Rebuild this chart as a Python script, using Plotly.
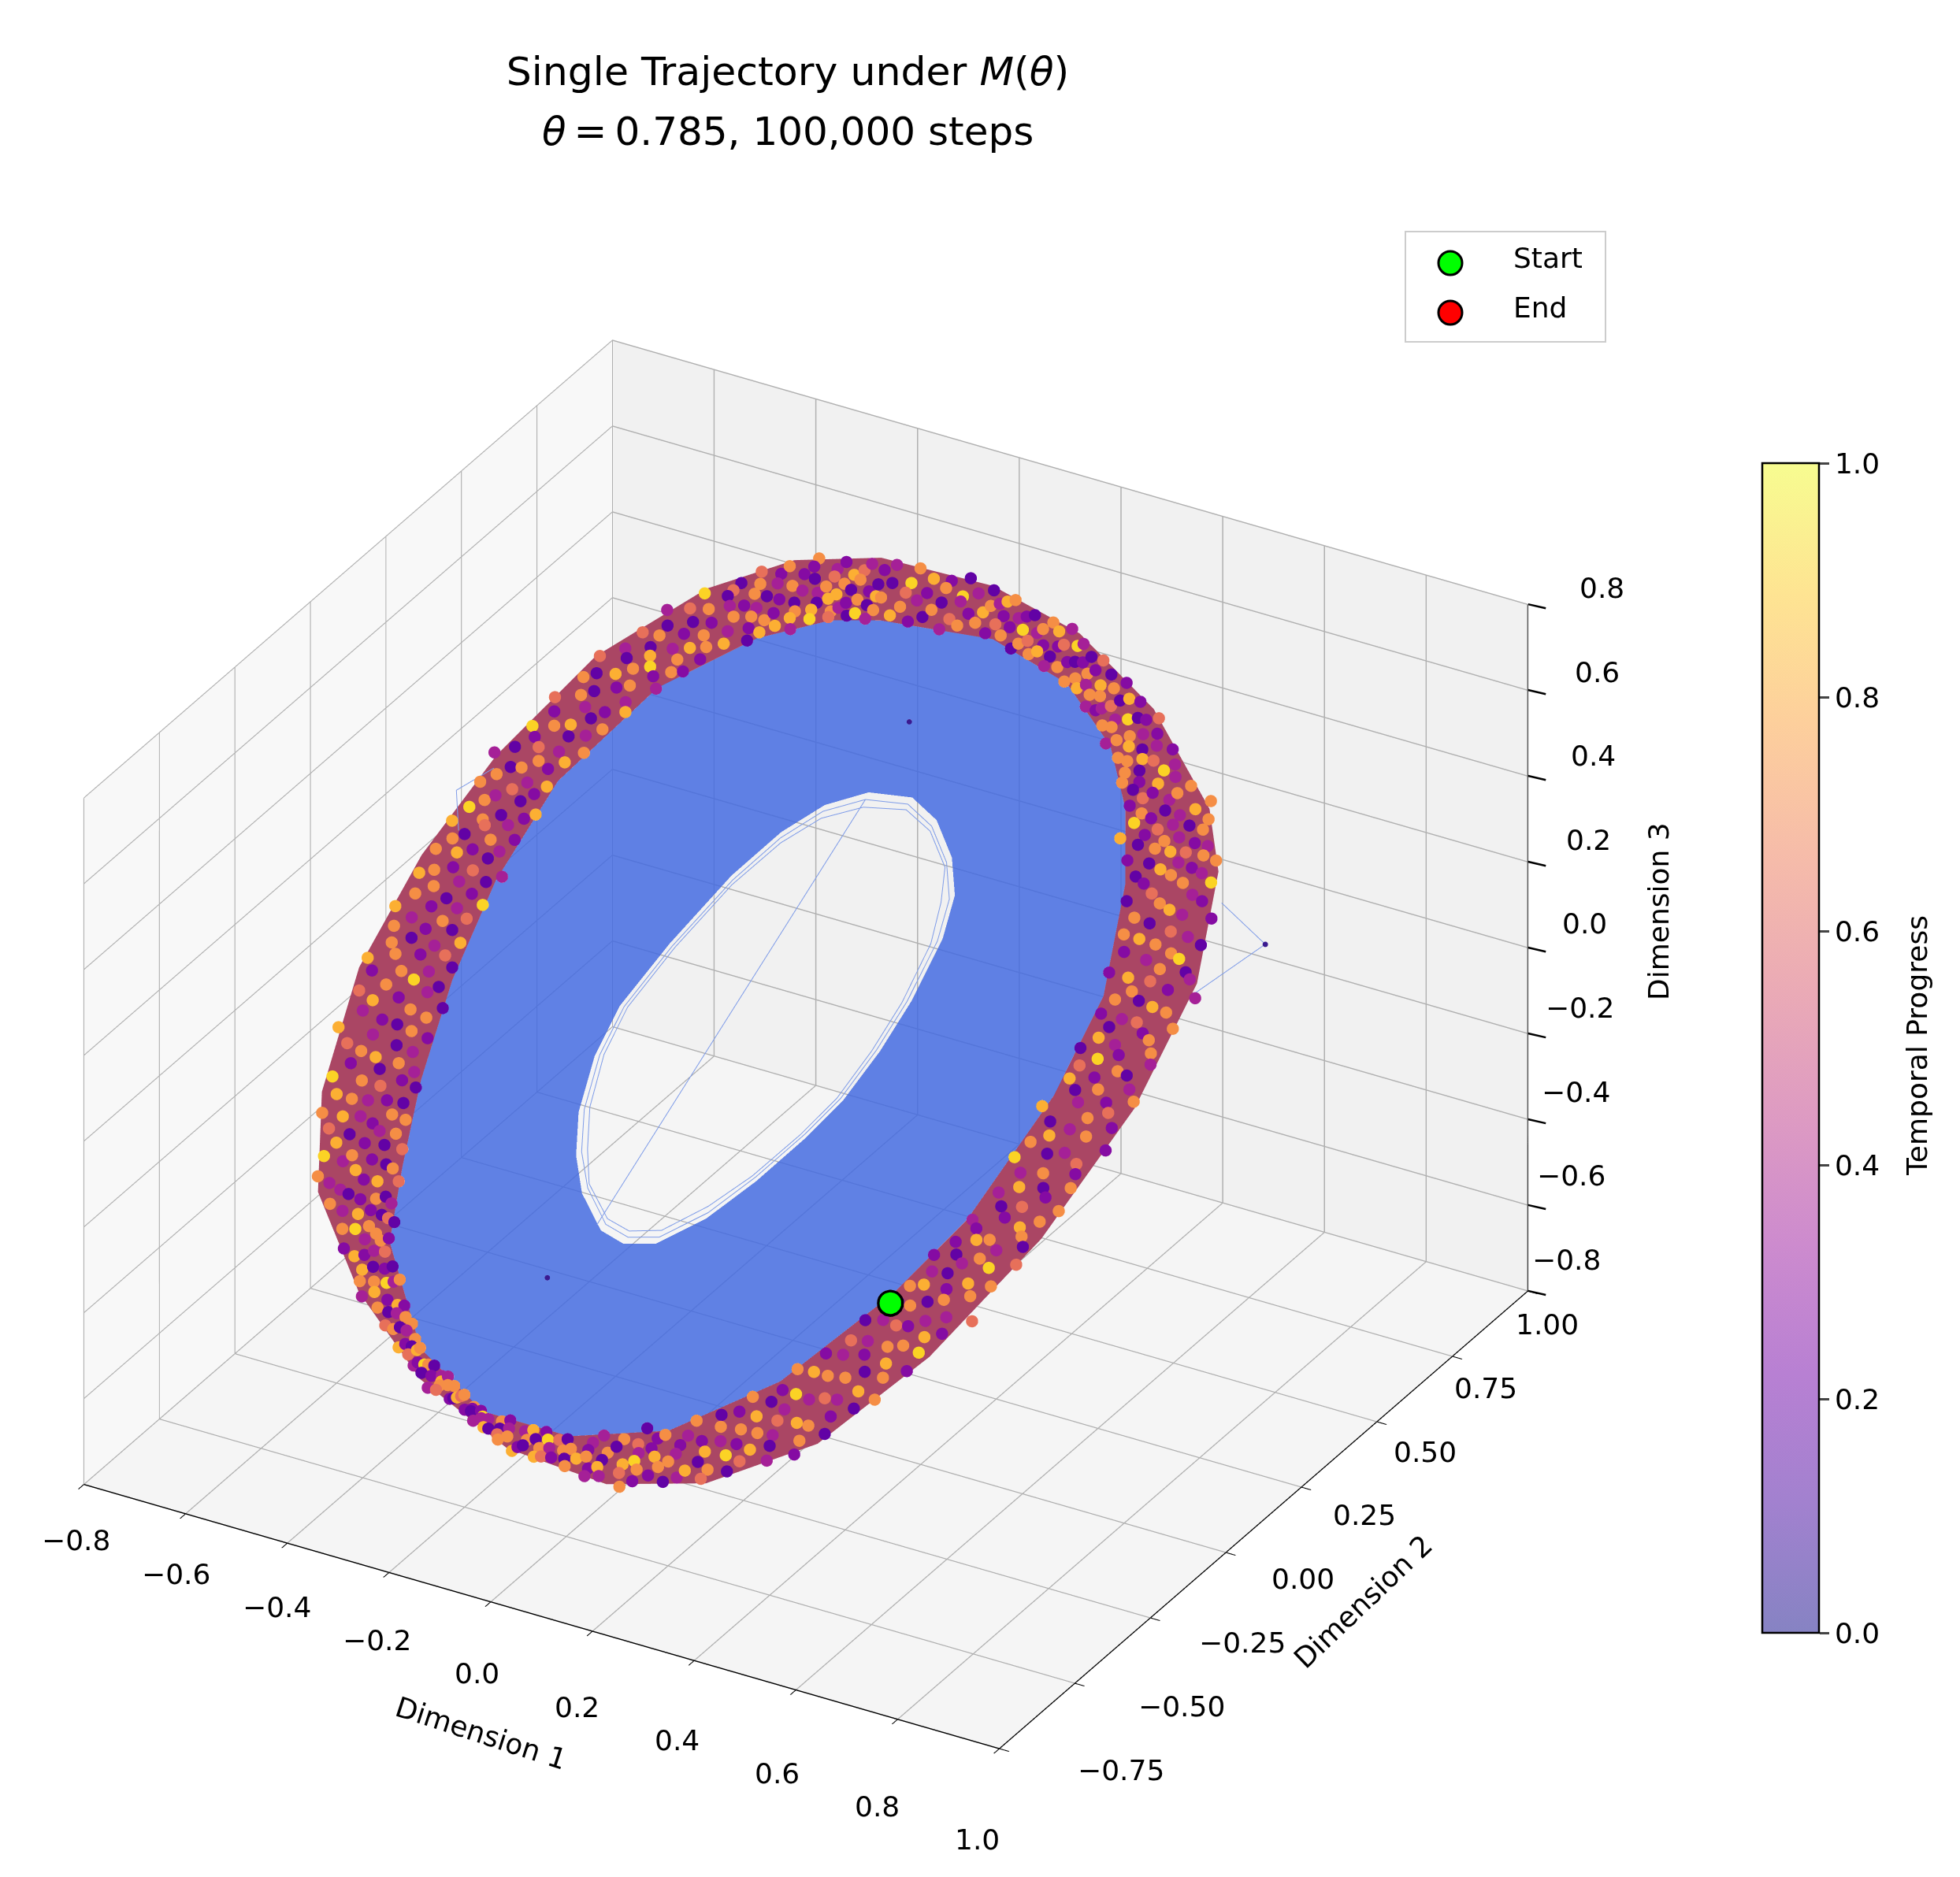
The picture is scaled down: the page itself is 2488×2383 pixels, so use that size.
import numpy as np
import plotly.graph_objects as go

# in-plane coordinates of the ring, 24 stations clockwise from the top
rim_a = [-.614,-.367,-.130,.134,.409,.535,.695,.805,.871,.882,.838,.711,.537,.299,.024,-.240,-.488,-.658,-.812,-.900,-.944,-.944,-.867,-.763]
rim_b = [.719,.834,.892,.899,.852,.788,.623,.388,.105,-.188,-.443,-.640,-.774,-.863,-.895,-.871,-.804,-.677,-.476,-.256,-.036,.218,.449,.600]
band_a = [-.504,-.273,-.064,.123,.260,.392,.552,.640,.706,.706,.662,.552,.387,.189,-.031,-.273,-.383,-.504,-.625,-.724,-.790,-.779,-.691,-.592]
band_b = [.642,.769,.814,.796,.740,.649,.483,.296,.029,-.161,-.417,-.626,-.765,-.851,-.857,-.769,-.661,-.530,-.367,-.188,.016,.262,.455,.576]
hole_a = [-.222,-.136,-.053,.040,.112,.167,.222,.255,.277,.277,.266,.244,.200,.143,.079,-.020,-.097,-.169,-.240,-.284,-.306,-.317,-.306,-.277]
hole_b = [.417,.469,.474,.449,.407,.338,.221,.118,.008,-.087,-.207,-.318,-.415,-.459,-.473,-.453,-.415,-.359,-.269,-.175,-.033,.133,.252,.343]

# thin trajectory passes that run inside the hole and past the rim
loop_a = [-.215,-.132,-.051,.039,.109,.162,.215,.247,.269,.269,.258,.237,.194,.139,.077,-.019,-.094,-.164,-.233,-.275,-.297,-.307,-.297,-.269,-.215,.062]
loop_b = [.404,.455,.460,.436,.395,.328,.214,.114,.008,-.084,-.201,-.308,-.403,-.445,-.459,-.439,-.403,-.348,-.261,-.170,-.032,.129,.244,.333,.404,-.471]
pass_a = [-.205,-.125,-.045,.045,.100,.155,.208,.240,.262,.262,.250,.226,.186,.130,.070,-.024,-.088,-.158,-.226,-.268,-.290,-.300,-.288,-.260,-.205]
pass_b = [.392,.446,.452,.428,.380,.316,.206,.107,.003,-.090,-.205,-.300,-.392,-.436,-.450,-.432,-.392,-.338,-.255,-.166,-.030,.122,.238,.322,.392]
spike_a = [.596,.746,.706]
spike_b = [.754,.762,.599]
spike2_a = [-.926,-.953,-.878]
spike2_b = [-.054,-.131,-.177]

# stragglers seen away from the rim
stray_a = [-.275,.068,.746]
stray_b = [.557,-.602,.762]

start_ab = [.717, -.175]
end_ab = [.620, .550]

# rim speckle: position along the stations in hundredths, share of the rim width in percent, progress digit
speck_pos = [
0,3,8,10,14,17,22,24,27,32,35,37,41,45,47,52,54,58,61,63,68,71,73,78,
80,84,87,91,93,98,101,103,108,110,113,117,121,124,126,131,133,137,140,144,147,149,154,157,
160,163,168,170,173,178,180,184,186,191,194,196,201,203,207,210,213,217,220,223,227,230,233,237,
240,243,247,249,254,257,259,264,266,270,273,276,280,283,286,290,293,296,299,303,306,309,313,316,
320,322,327,330,332,337,339,343,346,349,353,356,359,363,365,369,372,376,379,382,385,389,392,395,
400,402,406,409,413,416,419,423,425,429,432,436,439,442,446,449,452,456,458,462,465,469,472,476,
479,482,486,489,492,496,499,502,506,509,512,516,518,522,525,529,532,535,539,542,546,549,552,556,
559,562,565,569,572,575,579,582,586,588,592,595,599,602,605,609,612,616,618,622,625,629,632,636,
639,642,645,649,652,656,658,662,665,669,672,675,679,682,686,689,692,695,699,702,706,709,712,716,
719,722,725,729,732,736,739,742,745,749,752,756,759,762,766,769,772,776,779,782,785,789,792,796,
799,802,806,809,812,816,818,822,825,829,832,835,839,842,846,849,852,855,859,862,866,869,872,876,
879,882,885,889,892,896,899,902,905,909,912,915,919,922,926,929,932,936,939,942,945,949,952,956,
959,962,965,969,972,976,979,982,985,989,992,995,999,1002,1006,1009,1012,1015,1019,1022,1026,1029,1032,1036,
1039,1042,1045,1049,1052,1056,1059,1062,1065,1069,1072,1076,1079,1082,1085,1089,1092,1095,1099,1102,1106,1109,1112,1116,
1119,1122,1125,1129,1132,1136,1139,1142,1145,1149,1152,1155,1159,1162,1166,1169,1172,1175,1179,1182,1186,1189,1192,1196,
1199,1202,1206,1209,1212,1215,1219,1222,1225,1229,1232,1235,1239,1242,1246,1249,1252,1256,1259,1262,1265,1269,1272,1276,
1279,1282,1285,1289,1292,1296,1299,1302,1305,1309,1312,1316,1319,1322,1325,1329,1332,1335,1339,1342,1346,1349,1352,1356,
1359,1362,1365,1369,1372,1376,1379,1382,1386,1389,1392,1395,1399,1402,1406,1409,1412,1415,1419,1422,1426,1429,1432,1436,
1439,1442,1446,1449,1452,1455,1459,1462,1466,1469,1472,1475,1479,1482,1486,1489,1492,1495,1499,1502,1506,1509,1512,1516,
1519,1522,1525,1529,1532,1536,1539,1542,1546,1549,1552,1556,1559,1562,1565,1569,1572,1575,1579,1582,1586,1589,1592,1596,
1599,1602,1606,1609,1612,1616,1619,1622,1625,1629,1632,1635,1639,1642,1646,1649,1652,1656,1659,1662,1665,1669,1672,1676,
1679,1682,1685,1689,1692,1696,1699,1702,1706,1709,1712,1715,1719,1722,1726,1729,1732,1736,1739,1742,1746,1749,1752,1755,
1759,1762,1766,1769,1772,1775,1779,1782,1786,1789,1792,1796,1799,1802,1805,1809,1812,1816,1819,1822,1825,1829,1832,1836,
1839,1842,1846,1849,1852,1855,1859,1862,1866,1869,1872,1875,1879,1882,1886,1889,1892,1896,1899,1902,1905,1909,1912,1916,
1919,1922,1925,1929,1932,1936,1939,1942,1946,1949,1952,1955,1959,1962,1966,1969,1972,1975,1979,1982,1986,1989,1992,1996,
1999,2002,2006,2009,2012,2016,2019,2022,2025,2029,2032,2036,2039,2042,2045,2049,2052,2056,2059,2062,2065,2069,2072,2076,
2079,2082,2086,2089,2092,2095,2099,2102,2106,2109,2112,2116,2119,2122,2125,2129,2132,2136,2139,2142,2145,2149,2152,2156,
2159,2162,2166,2169,2172,2175,2179,2182,2186,2189,2192,2196,2199,2202,2205,2209,2212,2216,2219,2222,2226,2229,2232,2235,
2239,2242,2246,2249,2252,2255,2259,2262,2266,2269,2272,2276,2279,2282,2285,2289,2292,2296,2299,2302,2305,2309,2312,2316,
2319,2322,2326,2329,2332,2335,2339,2342,2346,2349,2352,2356,2359,2362,2365,2369,2372,2376,2379,2382,2386,2389,2392,2396]
speck_frac = [
37,82,11,64,95,28,53,6,71,44,99,18,60,33,87,2,49,76,23,91,14,58,68,39,
104,25,80,47,9,62,93,31,74,16,55,86,41,3,97,67,20,50,78,35,12,89,59,26,
72,43,7,94,30,84,56,19,65,101,38,1,77,48,90,24,61,13,83,52,34,70,96,27,
5,57,88,42,17,73,29,98,46,66,10,81,36,22,92,54,-4,69,15,79,40,100,63,32,
85,8,51,75,21,45,95,60,12,34,87,68,4,28,79,52,16,93,40,71,25,57,107,6,
83,47,19,64,30,97,10,55,74,37,89,22,-6,61,44,14,78,33,92,50,67,2,86,26,
58,99,38,72,11,49,82,20,63,94,31,5,76,42,88,54,17,69,35,102,9,60,27,80,
46,13,96,65,39,75,1,56,23,85,48,91,30,70,15,43,106,62,7,81,34,53,24,98,
66,18,77,41,3,87,51,29,93,12,59,72,36,8,83,47,21,95,64,32,74,-5,55,90,
16,44,68,26,101,10,57,38,79,4,86,49,23,92,61,33,71,14,97,52,28,84,41,66,
6,76,19,88,45,31,63,99,11,54,73,25,40,94,2,67,35,82,17,50,109,58,22,78,
43,9,90,60,29,75,13,48,86,37,65,20,96,53,5,70,30,83,42,15,61,100,24,77,
51,8,92,34,68,18,56,81,1,44,95,27,72,12,62,38,87,21,49,103,4,66,32,79,
55,16,98,41,74,10,59,26,85,46,69,3,93,35,52,19,80,63,28,91,7,43,75,13,
-7,57,88,31,47,67,22,96,39,11,83,54,71,25,2,60,94,36,77,15,50,105,29,64,
42,84,9,73,33,56,18,99,45,6,68,27,90,51,12,78,37,61,23,86,48,3,95,70,
30,14,82,58,40,102,20,65,7,92,35,75,52,26,88,44,10,62,97,32,79,16,55,1,
71,38,85,24,47,67,12,93,58,29,108,41,76,5,63,34,89,19,52,83,8,72,43,98,
26,60,15,81,49,36,94,69,3,56,22,86,40,11,74,31,64,100,17,53,90,6,78,45,
28,66,-3,84,37,59,13,96,48,25,70,9,88,42,61,19,33,80,54,2,92,67,30,75,
46,12,87,21,57,101,39,5,73,63,27,95,50,16,82,35,68,8,44,91,24,58,77,14,
99,32,52,69,4,85,41,20,62,10,94,47,29,79,55,18,72,37,89,7,65,26,103,43,
60,15,83,34,1,76,50,93,22,67,12,40,86,56,28,97,6,71,45,19,81,35,63,9,
88,53,24,74,39,98,14,59,30,84,47,3,68,21,92,42,77,11,57,33,-4,90,64,25,
49,80,17,70,36,95,8,54,61,27,87,43,13,75,2,66,31,96,51,20,83,38,10,72,
58,106,26,46,89,15,62,34,78,5,93,41,69,23,52,85,12,37,100,56,29,74,7,64,
18,91,44,81,32,60,1,97,50,22,71,39,86,14,55,6,67,28,94,47,76,11,35,83,
59,24,104,42,68,16,88,53,30,73,4,96,45,20,63,9,79,37,57,85,26,48,13,92,
70,33,2,61,82,19,51,99,27,75,40,10,87,65,23,54,94,31,6,77,46,15,69,36,
89,56,21,102,43,8,72,29,84,60,12,50,95,34,74,3,66,25,81,47,17,91,39,58]
speck_prog = [
7,2,8,1,3,7,6,2,9,3,7,1,2,7,8,3,1,7,6,2,7,3,9,2,
1,7,3,8,2,7,1,6,3,7,2,8,2,1,7,3,7,9,2,6,7,1,3,8,
7,2,3,7,1,8,2,7,6,3,2,7,9,1,3,7,2,8,1,7,3,2,6,7,
3,8,1,7,2,7,3,2,6,1,7,8,3,7,2,9,3,1,7,2,7,6,3,8,
2,7,1,3,7,8,2,6,7,1,3,9,7,2,3,8,1,7,2,7,6,3,7,2,
8,1,7,3,2,7,9,3,1,6,7,2,8,3,7,1,2,7,3,8,6,2,7,1,
3,7,8,2,1,7,3,2,7,9,6,1,3,7,2,8,7,3,1,2,7,6,8,3,
7,2,1,7,3,9,2,7,8,1,6,3,7,2,7,1,3,8,2,7,3,6,1,7,
2,8,7,3,1,7,2,9,3,6,7,1,2,8,3,7,1,7,2,3,6,8,7,2,
1,3,7,8,2,7,3,1,6,9,2,7,3,7,1,8,2,3,7,6,1,7,2,8,
3,7,2,1,7,8,3,6,2,7,9,1,3,7,2,8,1,7,3,2,6,7,8,3,
1,7,2,3,7,8,1,2,9,6,7,3,2,7,1,8,3,7,2,6,1,7,3,8,
7,2,1,7,3,8,6,2,7,3,1,9,7,2,8,3,7,1,6,2,7,3,8,1,
7,2,3,7,8,1,2,7,6,3,9,7,1,2,8,3,7,1,2,6,7,3,8,2,
1,7,3,2,8,7,6,1,3,7,2,9,7,1,3,8,2,7,6,3,1,7,2,8,
7,3,1,2,7,8,6,3,7,2,1,9,7,3,8,2,1,7,3,6,7,2,8,1,
3,7,2,7,1,8,3,6,2,7,9,1,3,7,8,2,7,1,3,6,2,7,8,3,
1,7,2,3,8,7,1,6,2,7,3,9,1,7,2,8,3,7,1,6,7,2,3,8,
7,1,2,7,3,8,6,1,7,2,3,7,9,1,8,2,7,3,6,1,7,2,8,3,
7,2,1,8,7,3,6,2,7,1,9,3,7,2,8,1,7,3,2,6,7,1,8,3,
2,7,3,1,8,7,2,6,3,7,1,9,2,7,8,3,1,7,2,6,7,3,8,1,
7,2,3,7,1,8,6,2,7,3,9,1,7,2,8,3,7,1,6,2,3,7,8,1,
2,7,3,7,1,8,2,6,3,7,1,9,2,7,3,8,1,7,2,6,7,3,1,8,
7,2,1,3,7,8,6,2,3,7,1,9,7,2,8,3,7,1,2,6,3,7,8,1,
2,7,3,1,7,8,2,6,7,3,9,1,2,7,8,3,1,7,6,2,7,3,8,1,
7,3,2,7,1,8,6,3,2,7,9,1,7,3,8,2,7,1,6,3,2,7,8,1,
3,7,2,1,7,8,3,6,7,2,1,9,3,7,8,2,1,7,6,3,7,2,8,1,
2,7,3,7,1,8,6,2,3,7,1,9,7,2,3,8,1,7,2,6,7,3,8,1,
7,2,3,1,7,8,2,6,7,3,1,9,2,7,8,3,7,1,6,2,3,7,1,8,
2,7,3,7,8,1,6,2,3,7,9,1,2,7,8,3,7,1,6,2,7,3,8,1]

x_ticks = [-0.8, -0.6, -0.4, -0.2, 0.0, 0.2, 0.4, 0.6, 0.8, 1.0]
y_ticks = [-0.75, -0.5, -0.25, 0.0, 0.25, 0.5, 0.75, 1.0]
z_ticks = [-0.8, -0.6, -0.4, -0.2, 0.0, 0.2, 0.4, 0.6, 0.8]
bar_ticks = [0.0, 0.2, 0.4, 0.6, 0.8, 1.0]

plasma_half = ["#8683c3", "#a281cf", "#b880d3", "#cd8bce", "#de9bc2", "#ebabb5", "#f6bca9", "#fdcf9c", "#fee492", "#f7fc90"]

X_LO, X_HI = -0.8, 1.0
Y_LO, Y_HI = -0.75, 1.0
Z_LO, Z_HI = -0.8, 0.8

# ring plane: centre and the two in-plane directions
center = np.array([0.079, 0.025, 0.107])
u = np.array([0.817, -0.482, -0.118])
v = np.array([0.391, 0.640, 0.657])
toward_eye = np.array([0.433, -0.727, 0.592])
box_scale = 1.26


def to_xyz(a, b, lift=0.0):
    a, b = np.asarray(a), np.asarray(b)
    return center + np.outer(a, u) + np.outer(b, v) + lift * toward_eye


def band_mesh(a0, b0, a1, b1, color, opacity):
    pts = np.vstack([to_xyz(a0, b0), to_xyz(a1, b1)])
    m = len(a0)
    i, j, k = [], [], []
    for s in range(m):
        t = (s + 1) % m
        i += [s, t]
        j += [t, t + m]
        k += [s + m, s + m]
    return go.Mesh3d(
        x=pts[:, 0], y=pts[:, 1], z=pts[:, 2], i=i, j=j, k=k,
        color=color, opacity=opacity, flatshading=True,
        lighting=dict(ambient=1, diffuse=0, specular=0, roughness=1, fresnel=0),
        hoverinfo="skip", showscale=False,
    )


def line_trace(a, b, width=2):
    p = to_xyz(a, b, 0.01)
    return go.Scatter3d(x=p[:, 0], y=p[:, 1], z=p[:, 2], mode="lines", showlegend=False, hoverinfo="skip",
                        line=dict(color="#7f9ce8", width=width))


def marker_trace(p, size, color, name):
    return go.Scatter3d(x=p[:, 0], y=p[:, 1], z=p[:, 2], mode="markers", name=name, showlegend=False,
                        marker=dict(size=size, color=color, line=dict(width=0)))


def fmt(t, spec):
    return format(t, spec).replace("-", "\u2212")


def tick_note(x, y, z, text, dx, dy):
    return dict(x=x, y=y, z=z, text=text, showarrow=False, xshift=dx * 1.587, yshift=-dy * 1.587,
                font=dict(size=36, color="black"))


def paper_text(px, py, text, size=36, angle=0, anchor="center"):
    return dict(text=text, xref="paper", yref="paper", x=px / 2488, y=1 - py / 2383, showarrow=False,
                xanchor=anchor, yanchor="middle", textangle=angle, font=dict(size=size, color="black"))


def paper_circle(px, py, r, color):
    return dict(type="circle", xref="paper", yref="paper", x0=(px - r) / 2488, x1=(px + r) / 2488,
                y0=1 - (py + r) / 2383, y1=1 - (py - r) / 2383, fillcolor=color,
                line=dict(color="black", width=3))


fig = go.Figure()
fig.add_trace(band_mesh(hole_a, hole_b, band_a, band_b, "#4169e1", 0.83))
fig.add_trace(band_mesh(band_a, band_b, rim_a, rim_b, "#aa4664", 1.0))
fig.add_trace(line_trace(loop_a, loop_b))
fig.add_trace(line_trace(pass_a, pass_b))
fig.add_trace(line_trace(spike_a, spike_b))
fig.add_trace(line_trace(spike2_a, spike2_b))

# rim speckle
stations = np.arange(25)
sp = np.asarray(speck_pos) / 100.0
sf = np.asarray(speck_frac) / 100.0
in_a = np.interp(sp, stations, band_a + band_a[:1])
in_b = np.interp(sp, stations, band_b + band_b[:1])
out_a = np.interp(sp, stations, rim_a + rim_a[:1])
out_b = np.interp(sp, stations, rim_b + rim_b[:1])
sk = to_xyz(in_a + sf * (out_a - in_a), in_b + sf * (out_b - in_b), 0.02)
fig.add_trace(go.Scatter3d(x=sk[:, 0], y=sk[:, 1], z=sk[:, 2], mode="markers", showlegend=False, hoverinfo="skip",
                           marker=dict(size=9, color=speck_prog, cmin=-1, cmax=10, colorscale="Plasma",
                                       line=dict(width=0))))
st = to_xyz(stray_a, stray_b, 0.02)
fig.add_trace(go.Scatter3d(x=st[:, 0], y=st[:, 1], z=st[:, 2], mode="markers", showlegend=False, hoverinfo="skip",
                           marker=dict(size=4, color="#3a1a90", line=dict(width=0))))

e = to_xyz([end_ab[0]], [end_ab[1]], -0.1)
fig.add_trace(marker_trace(e, 14, "#ff0000", "End"))
fig.add_trace(marker_trace(to_xyz([start_ab[0]], [start_ab[1]], 0.2), 20, "black", "Start outline"))
fig.add_trace(marker_trace(to_xyz([start_ab[0]], [start_ab[1]], 0.3), 16, "#00ff00", "Start"))

fig.add_trace(go.Scatter3d(
    x=e[:, 0], y=e[:, 1], z=e[:, 2], mode="markers", showlegend=False, hoverinfo="skip",
    marker=dict(size=1, color=[0.5], cmin=0, cmax=1, colorscale=plasma_half, showscale=True,
                colorbar=dict(x=0.896, xanchor="left", xpad=0, y=0.1333, yanchor="bottom", ypad=0,
                              len=0.623, lenmode="fraction", thickness=72, outlinewidth=2.5, outlinecolor="black",
                              tickvals=bar_ticks, ticktext=["0.0", "0.2", "0.4", "0.6", "0.8", "1.0"],
                              ticks="outside", ticklen=12, tickwidth=2.5, tickfont=dict(size=36, color="black"))),
))

# z axis runs along the right-hand edge in the original
fig.add_trace(go.Scatter3d(x=[X_HI, X_HI], y=[Y_HI, Y_HI], z=[Z_LO, Z_HI], mode="lines", showlegend=False,
                           hoverinfo="skip", line=dict(color="black", width=3)))


def axis(ticks, lo, hi, bg, show=True):
    return dict(
        title=dict(text=""), range=[lo, hi], tickvals=ticks, showticklabels=False,
        ticks="outside" if show else "", ticklen=14, tickwidth=2.5, tickcolor="black",
        showgrid=True, gridcolor="#b0b0b0", gridwidth=3, zeroline=False,
        showline=show, linecolor="black", linewidth=3,
        showbackground=True, backgroundcolor=bg, showspikes=False,
    )


notes = []
for t in x_ticks:
    f = (t - X_LO) / (X_HI - X_LO)
    notes.append(tick_note(t, Y_LO, Z_LO, fmt(t, ".1f"), -6 - 12 * f, 45 + 28 * f))
for t in y_ticks:
    f = (t - Y_LO) / (Y_HI - Y_LO)
    notes.append(tick_note(X_HI, t, Z_LO, fmt(t, ".2f"), 97 - 82 * f, 17 + 10 * f))
for t in z_ticks:
    f = (t - Z_LO) / (Z_HI - Z_LO)
    notes.append(tick_note(X_HI, Y_HI, t, fmt(t, ".1f"), 31 + 28 * f, -25 + 12 * f))
    notes.append(dict(x=X_HI, y=Y_HI, z=t, text=" ", showarrow=True, ax=26, ay=6, arrowhead=0, arrowwidth=2.5,
                      arrowcolor="black", standoff=0, startstandoff=0))

annotations = [
    paper_text(992, 159, "<i>\u03b8</i>\u2009=\u20090.785, 100,000 steps", size=50),
    paper_text(603, 2192, "Dimension 1", angle=18),
    paper_text(1722, 2025, "Dimension 2", angle=-43.6),
    paper_text(2097, 1149, "Dimension 3", angle=-90),
    paper_text(2425, 1320, "Temporal Progress", angle=-90),
    paper_text(1911, 319, "Start", anchor="left"),
    paper_text(1911, 383, "End", anchor="left"),
]
shapes = [
    dict(type="rect", xref="paper", yref="paper", x0=1776 / 2488, x1=2030 / 2488, y0=1 - 426 / 2383, y1=1 - 286 / 2383,
         line=dict(color="#cccccc", width=2), fillcolor="white"),
    paper_circle(1833, 326, 15, "#00ff00"),
    paper_circle(1833, 389, 15, "#ff0000"),
]

fig.update_layout(
    width=2488, height=2383, margin=dict(l=0, r=0, t=0, b=0), paper_bgcolor="white",
    font=dict(family="DejaVu Sans", color="black"), showlegend=False,
    title=dict(text="Single Trajectory under <i>M</i>(<i>\u03b8</i>)",
               x=992 / 2488, xanchor="center", y=1 - 82 / 2383, yanchor="middle", font=dict(size=50.5)),
    annotations=annotations, shapes=shapes,
    scene=dict(
        domain=dict(x=[0, 0.816], y=[0, 0.894]),
        xaxis=axis(x_ticks, X_LO, X_HI, "#f8f8f8"),
        yaxis=axis(y_ticks, Y_LO, Y_HI, "#f1f1f1"),
        zaxis=axis(z_ticks, Z_LO, Z_HI, "#f5f5f5", show=False),
        aspectmode="manual", aspectratio=dict(x=box_scale, y=box_scale, z=0.75 * box_scale),
        camera=dict(eye=dict(x=0.866, y=-1.5, z=1.0),
                    up=dict(x=0, y=0, z=1), center=dict(x=0, y=0, z=0),
                    projection=dict(type="orthographic")),
        annotations=notes,
    ),
)
fig.write_html("out.html")
